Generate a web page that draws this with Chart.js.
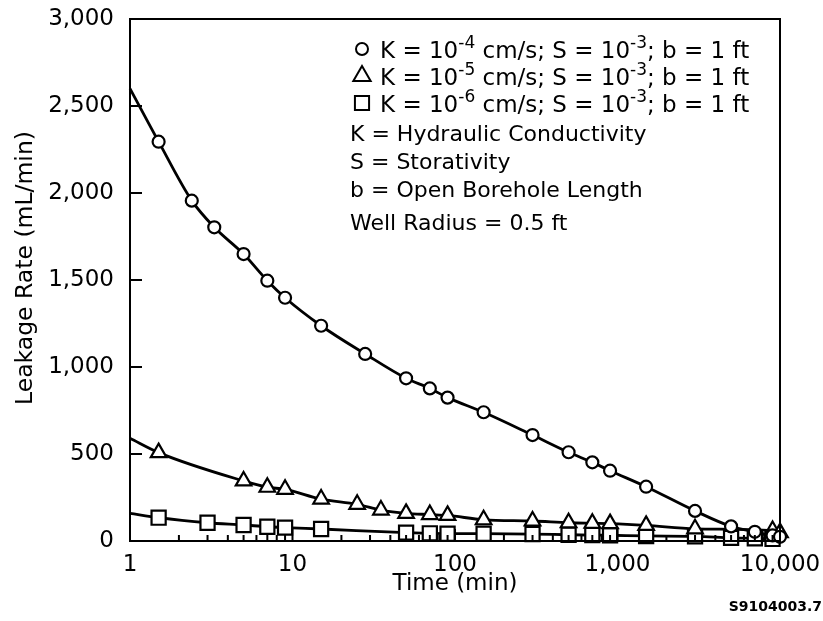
<!DOCTYPE html>
<html><head><meta charset="utf-8">
<script src="https://cdn.jsdelivr.net/npm/chart.js@4/dist/chart.umd.min.js"></script>
<style>html,body{margin:0;padding:0;background:#fff;}#wrap{width:823px;height:621px;}</style>
</head><body><div id="wrap"><canvas id="c" width="823" height="621"></canvas></div>
<script>
// ---- data ----
const circleTime = [1, 1.5, 2.4, 3.3, 5, 7, 9, 15, 28, 50, 70, 90, 150, 300, 500, 700, 900, 1500, 3000, 5000, 7000, 9000, 10000];
const circleRate = [2600, 2295, 1956, 1803, 1649, 1496, 1398, 1237, 1075, 935, 877, 824, 740, 609, 510, 452, 404, 312, 173, 84, 53, 32, 24];
const triangleTime = [1, 1.5, 5, 7, 9, 15, 25, 35, 50, 70, 90, 150, 300, 500, 700, 900, 1500, 3000, 9000, 10000];
const triangleRate = [590, 508, 345, 309, 297, 241, 211, 178, 159, 152, 147, 122, 115, 105, 102, 100, 90, 70, 60, 48];
const squareTime = [1, 1.5, 3, 5, 7, 9, 15, 50, 70, 90, 150, 300, 500, 700, 900, 1500, 3000, 5000, 7000, 9000];
const squareRate = [159, 134, 105, 92, 82, 77, 69, 48, 44, 42, 42, 40, 36, 34, 33, 29, 27, 18, 15, 12];
const xTickValues = [1, 10, 100, 1000, 10000];
const xTickLabels = ['1', '10', '100', '1,000', '10,000'];
const yTickValues = [0, 500, 1000, 1500, 2000, 2500, 3000];
const yTickLabels = ['0', '500', '1,000', '1,500', '2,000', '2,500', '3,000'];
const kExponents = ['-4', '-5', '-6'];
const sExponent = '-3';
const noteLines = ['K = Hydraulic Conductivity', 'S = Storativity', 'b = Open Borehole Length'];
const radiusNote = 'Well Radius = 0.5 ft';
const xTitle = 'Time (min)';
const yTitle = 'Leakage Rate (mL/min)';
const figId = 'S9104003.7';

const FONT = '"DejaVu Sans", sans-serif';
Chart.defaults.font.family = FONT;
Chart.defaults.color = '#000';

function series(times, rates, style, radius) {
  return {
    data: times.map((t, i) => ({x: t, y: rates[i]})),
    borderColor: '#000', borderWidth: 2.8,
    pointStyle: style,
    pointRadius: times.map((t, i) => i === 0 ? 0 : radius),
    pointBackgroundColor: '#fff', pointBorderColor: '#000', pointBorderWidth: 2.2,
    cubicInterpolationMode: 'monotone', fill: false, clip: false
  };
}

function drawRich(ctx, parts, x, base) {
  let cx = x;
  parts.forEach(p => {
    ctx.font = p.sup ? `17px ${FONT}` : `23px ${FONT}`;
    ctx.fillText(p.t, cx, p.sup ? base - 10 : base);
    cx += ctx.measureText(p.t).width;
  });
}

const decor = {
  id: 'decor',
  afterDatasetsDraw(chart) {
    const {ctx, chartArea: a, scales: {x, y}} = chart;
    ctx.save();
    ctx.strokeStyle = '#000'; ctx.fillStyle = '#000';
    ctx.lineWidth = 2;
    ctx.strokeRect(a.left, a.top, a.right - a.left, a.bottom - a.top);
    ctx.beginPath();
    for (let d = 1; d < 10000; d *= 10) {
      for (let m = 2; m <= 9; m++) {
        const px = x.getPixelForValue(m * d);
        ctx.moveTo(px, a.bottom); ctx.lineTo(px, a.bottom - 6);
      }
    }
    xTickValues.slice(1, -1).forEach(v => {
      const px = x.getPixelForValue(v);
      ctx.moveTo(px, a.bottom); ctx.lineTo(px, a.bottom - 12);
    });
    yTickValues.slice(1, -1).forEach(v => {
      const py = y.getPixelForValue(v);
      ctx.moveTo(a.left, py); ctx.lineTo(a.left + 12, py);
    });
    ctx.stroke();

    // axis titles
    ctx.font = `23px ${FONT}`;
    ctx.textAlign = 'center'; ctx.textBaseline = 'middle';
    ctx.fillText(xTitle, (a.left + a.right) / 2, 584);
    ctx.save();
    ctx.font = `23.5px ${FONT}`;
    ctx.translate(26, 268); ctx.rotate(-Math.PI / 2);
    ctx.fillText(yTitle, 0, 0);
    ctx.restore();
    ctx.font = `bold 14px ${FONT}`;
    ctx.textAlign = 'right';
    ctx.fillText(figId, 822, 607);

    // legend
    ctx.textAlign = 'left'; ctx.textBaseline = 'alphabetic';
    const styles = ['circle', 'triangle', 'rect'];
    const radii = [6, 10, 10];
    const centers = [50, 77, 104];
    styles.forEach((s, i) => {
      ctx.fillStyle = '#fff'; ctx.strokeStyle = '#000';
      Chart.helpers.drawPoint(ctx, {pointStyle: s, radius: radii[i], borderWidth: 2.4}, 362, centers[i] - 1);
      ctx.fillStyle = '#000';
      drawRich(ctx, [
        {t: 'K = 10'}, {t: kExponents[i], sup: true},
        {t: ' cm/s; S = 10'}, {t: sExponent, sup: true},
        {t: '; b = 1 ft'}
      ], 380, centers[i] + 8);
    });
    ctx.font = `22px ${FONT}`;
    const nc = [133, 161, 189];
    noteLines.forEach((t, i) => ctx.fillText(t, 350, nc[i] + 8));
    ctx.fillText(radiusNote, 350, 222 + 8);
    ctx.restore();
  }
};

new Chart(document.getElementById('c'), {
  type: 'line',
  data: {
    datasets: [
      series(circleTime, circleRate, 'circle', 6),
      series(triangleTime, triangleRate, 'triangle', 9),
      series(squareTime, squareRate, 'rect', 10)
    ]
  },
  options: {
    responsive: false, animation: false, devicePixelRatio: 1,
    layout: {padding: {left: 0, right: 43, top: 19, bottom: 0}},
    plugins: {legend: {display: false}, tooltip: {enabled: false}},
    scales: {
      x: {
        type: 'logarithmic', min: 1, max: 10000,
        grid: {display: false}, border: {display: false},
        afterBuildTicks: s => { s.ticks = xTickValues.map(v => ({value: v})); },
        afterFit: s => { s.height = 80; s.paddingLeft = 0; s.paddingRight = 0; },
        ticks: {
          autoSkip: false, maxRotation: 0, padding: 2, color: '#000',
          font: {size: 23},
          callback: v => { const i = xTickValues.indexOf(v); return i >= 0 ? xTickLabels[i] : ''; }
        }
      },
      y: {
        type: 'linear', min: 0, max: 3000,
        grid: {display: false}, border: {display: false},
        afterBuildTicks: s => { s.ticks = yTickValues.map(v => ({value: v})); },
        afterFit: s => { s.width = 130; s.paddingTop = 0; s.paddingBottom = 0; },
        ticks: {
          padding: 8, color: '#000', font: {size: 23},
          callback: v => { const i = yTickValues.indexOf(v); return i >= 0 ? yTickLabels[i] : ''; }
        }
      }
    }
  },
  plugins: [decor]
});
</script>
</body></html>
